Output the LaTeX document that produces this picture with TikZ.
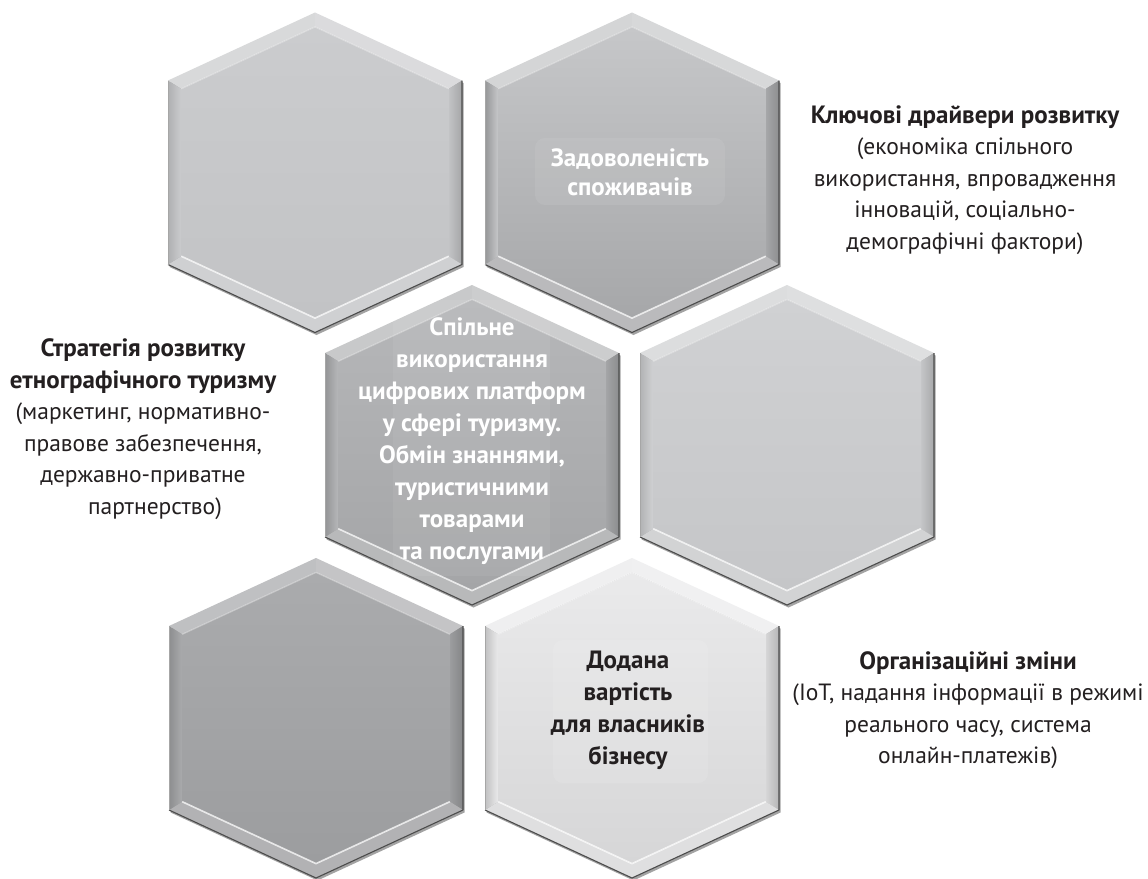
\documentclass[tikz,border=0pt]{standalone}
\usepackage{fontspec}
\setmainfont{PT Sans}
\definecolor{txtdark}{HTML}{231F20}
\definecolor{aTop}{HTML}{CBCCCE}\definecolor{aBot}{HTML}{C2C3C5}
\definecolor{bTop}{HTML}{C6C7C9}\definecolor{bBot}{HTML}{A6A7A9}
\definecolor{cTop}{HTML}{B6B7B9}\definecolor{cBot}{HTML}{A4A5A7}
\definecolor{dTop}{HTML}{D0D1D3}\definecolor{dBot}{HTML}{C5C6C8}
\definecolor{eTop}{HTML}{AAABAD}\definecolor{eBot}{HTML}{9C9D9F}
\definecolor{fTop}{HTML}{EAEAEB}\definecolor{fBot}{HTML}{D6D6D7}
\newcommand{\hd}[1]{{\fontsize{25}{31.5}\selectfont\bfseries #1}}
\tikzset{
  lbl/.style={align=center, inner sep=0pt, text=txtdark, font=\fontsize{23.5}{31.5}\selectfont},
  hextxt/.style={align=center, inner sep=0pt, font=\bfseries\fontsize{25}{32}\selectfont},
}
\newcommand{\hexcell}[4]{%
  \begin{scope}[shift={#2}]
    \coordinate (#1) at (0,0);
    \coordinate (#1o1) at (0,-160);      \coordinate (#1i1) at (0,-145.6);
    \coordinate (#1o2) at (147,-92);     \coordinate (#1i2) at (133.8,-83.7);
    \coordinate (#1o3) at (147,92);      \coordinate (#1i3) at (133.8,83.7);
    \coordinate (#1o4) at (0,160);       \coordinate (#1i4) at (0,145.6);
    \coordinate (#1o5) at (-147,92);     \coordinate (#1i5) at (-133.8,83.7);
    \coordinate (#1o6) at (-147,-92);    \coordinate (#1i6) at (-133.8,-83.7);
    \begin{scope}[shift={(1.5,2.5)}]
      \fill[black!80, opacity=0.45] (0,-160) -- (147,-92) -- (147,92) -- (0,160) -- (-147,92) -- (-147,-92) -- cycle;
    \end{scope}
    \fill[#3!75!white] (#1o6) -- (#1o1) -- (#1i1) -- (#1i6) -- cycle;
    \fill[#3!70!white] (#1o1) -- (#1o2) -- (#1i2) -- (#1i1) -- cycle;
    \shade[left color=#4, right color=#4!85!black] (#1o2) -- (#1o3) -- (#1i3) -- (#1i2) -- cycle;
    \fill[#4!78!white] (#1o3) -- (#1o4) -- (#1i4) -- (#1i3) -- cycle;
    \fill[#4!78!white] (#1o4) -- (#1o5) -- (#1i5) -- (#1i4) -- cycle;
    \shade[left color=#4!90!black, right color=#3] (#1o5) -- (#1o6) -- (#1i6) -- (#1i5) -- cycle;
    \shade[top color=#3, bottom color=#4] (#1i1) -- (#1i2) -- (#1i3) -- (#1i4) -- (#1i5) -- (#1i6) -- cycle;
    \draw[white, opacity=0.75, line width=1.6pt, line join=round] (#1i5) -- (#1i4) -- (#1i3);
    \draw[white, opacity=0.35, line width=1.2pt, line join=round] (#1i6) -- (#1i1) -- (#1i2);
    \draw[black!70, line width=1.1pt, line join=round] (#1o2) -- (#1o3) -- (#1o4) -- (#1o5);
    \draw[black!35, line width=0.7pt] (#1o5) -- (#1o6);
  \end{scope}}
\begin{document}
\begin{tikzpicture}[x=1pt, y=-1pt]
  \useasboundingbox (0,0) rectangle (1148,878);
  \fill[white] (0,0) rectangle (1148,878);

  % hexagons
  \hexcell{hexA}{(315,172.5)}{aTop}{aBot}
  \hexcell{hexB}{(632,172.5)}{bTop}{bBot}
  \hexcell{hexC}{(472,445)}{cTop}{cBot}
  \hexcell{hexD}{(787,445)}{dTop}{dBot}
  \hexcell{hexE}{(316,718)}{eTop}{eBot}
  \hexcell{hexF}{(632,718)}{fTop}{fBot}

  % subtle text boxes
  \fill[white, opacity=0.07, rounded corners=10pt] (535,138) rectangle (725,205);
  \fill[white, opacity=0.06, rounded corners=10pt] (393,300) rectangle (550,576);
  \fill[white, opacity=0.10, rounded corners=10pt] (553,640) rectangle (708,783);

  % texts inside hexagons
  \node[hextxt, text=white] (txtsat) at (630,172) {Задоволеність\\[-3pt]споживачів};
  \node[hextxt, text=white] (txtshare) at (472,441) {Спільне\\використання\\цифрових платформ\\у сфері туризму.\\Обмін знаннями,\\туристичними\\товарами\\та послугами};
  \node[hextxt, text=txtdark] (txtvalue) at (628,710) {Додана\\вартість\\для власників\\бізнесу};

  % outer labels
  \node[lbl] (lbldrivers) at (965,180) {\hd{Ключові драйвери розвитку}\\(економіка спільного\\використання, впровадження\\інновацій, соціально-\\демографічні фактори)};
  \node[lbl] (lblstrategy) at (143,429) {\hd{Стратегія розвитку}\\\hd{етнографічного туризму}\\(маркетинг, нормативно-\\правове забезпечення,\\державно-приватне\\\hspace*{24pt}партнерство)};
  \node[lbl] (lblorg) at (968,710) {\hd{Організаційні зміни}\\(IoT, надання інформації в режимі\\реального часу, система\\онлайн-платежів)};
\end{tikzpicture}
\end{document}
